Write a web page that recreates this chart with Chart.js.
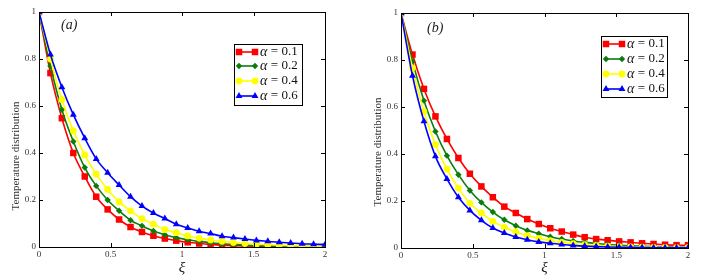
<!DOCTYPE html>
<html>
<head>
<meta charset="utf-8">
<script src="https://cdn.jsdelivr.net/npm/chart.js@4/dist/chart.umd.min.js"></script>
<style>
html, body { margin: 0; padding: 0; background: #fff; }
#wrap { position: relative; width: 701px; height: 277px; overflow: hidden; }
canvas { position: absolute; top: 0; }
</style>
</head>
<body>
<div id="wrap">
    <canvas id="chart-a" width="350" height="277" style="left:0"></canvas>
    <canvas id="chart-b" width="351" height="277" style="left:350px"></canvas>
</div>
<script>
//Two MATLAB-style temperature decay panels, (a) and (b), four alpha
//curves each. Values at xi = 0, 0.08, ... 2.

const XI = [0, 0.08, 0.16, 0.24, 0.32, 0.4, 0.48, 0.56, 0.64, 0.72, 0.8, 0.88, 0.96,
            1.04, 1.12, 1.2, 1.28, 1.36, 1.44, 1.52, 1.6, 1.68, 1.76, 1.84, 1.92, 2];

const ALPHA_LABELS = ['0.1', '0.2', '0.4', '0.6'];
const X_TICKS = [0, 0.5, 1, 1.5, 2];
const Y_TICKS = [0, 0.2, 0.4, 0.6, 0.8, 1];

//panel (a)
const A_RED    = [1, 0.74, 0.548, 0.40, 0.30, 0.214, 0.16, 0.117, 0.085, 0.064, 0.048, 0.036, 0.027,
                  0.02, 0.015, 0.011, 0.008, 0.006, 0.0045, 0.0033, 0.0025, 0.0018, 0.0013, 0.001, 0.0007, 0.0005];
const A_GREEN  = [1, 0.77, 0.584, 0.449, 0.338, 0.26, 0.2, 0.154, 0.114, 0.09, 0.068, 0.052, 0.04,
                  0.031, 0.024, 0.018, 0.014, 0.011, 0.008, 0.006, 0.0047, 0.0036, 0.0028, 0.0021, 0.0016, 0.0012];
const A_YELLOW = [1, 0.80, 0.627, 0.494, 0.392, 0.31, 0.245, 0.192, 0.154, 0.121, 0.097, 0.074, 0.061,
                  0.047, 0.037, 0.03, 0.024, 0.019, 0.015, 0.012, 0.0095, 0.0075, 0.006, 0.0048, 0.0038, 0.003];
const A_BLUE   = [1, 0.819, 0.68, 0.563, 0.463, 0.375, 0.316, 0.264, 0.214, 0.174, 0.145, 0.121, 0.097,
                  0.081, 0.067, 0.057, 0.046, 0.04, 0.034, 0.028, 0.024, 0.02, 0.017, 0.014, 0.012, 0.01];

//panel (b)
const B_RED    = [1, 0.823, 0.677, 0.56, 0.464, 0.383, 0.316, 0.262, 0.216, 0.176, 0.149, 0.123, 0.102,
                  0.084, 0.07, 0.057, 0.046, 0.038, 0.033, 0.028, 0.024, 0.02, 0.017, 0.014, 0.012, 0.012];
const B_GREEN  = [1, 0.794, 0.627, 0.496, 0.393, 0.312, 0.245, 0.194, 0.153, 0.12, 0.095, 0.075, 0.061,
                  0.048, 0.038, 0.03, 0.024, 0.019, 0.015, 0.012, 0.0095, 0.0075, 0.006, 0.0048, 0.0038, 0.003];
const B_YELLOW = [1, 0.766, 0.58, 0.44, 0.336, 0.255, 0.19, 0.149, 0.113, 0.088, 0.068, 0.053, 0.041,
                  0.031, 0.024, 0.018, 0.014, 0.011, 0.008, 0.006, 0.0047, 0.0036, 0.0028, 0.0021, 0.0016, 0.0012];
const B_BLUE   = [1, 0.733, 0.539, 0.39, 0.294, 0.216, 0.16, 0.118, 0.085, 0.064, 0.047, 0.035, 0.026,
                  0.02, 0.015, 0.011, 0.008, 0.006, 0.0045, 0.0033, 0.0025, 0.0018, 0.0013, 0.001, 0.0007, 0.0005];

const SERIES_STYLE = [
    { color: '#ff0000', pointStyle: 'rect',     radius: 4.6 },
    { color: '#0a7d0a', pointStyle: 'rectRot',  radius: 3.2 },
    { color: '#ffff00', pointStyle: 'circle',   radius: 3.4 },
    { color: '#0000ff', pointStyle: 'triangle', radius: 4.0 },
];

const SERIF = '"Liberation Serif", "DejaVu Serif", serif';

function buildDatasets(series)
{
    return series.map((ys, i) =>
    {
        const st = SERIES_STYLE[i];
        return {
            label: ALPHA_LABELS[i],
            data: XI.map((x, k) => ({ x, y: ys[k] })),
            borderColor: st.color,
            backgroundColor: st.color,
            borderWidth: 1.6,
            pointStyle: st.pointStyle,
            pointRadius: st.radius,
            pointBorderWidth: 0,
            pointBackgroundColor: st.color,
            cubicInterpolationMode: 'monotone',
            order: series.length - i,
        };
    });
}

//Draws one marker; uses Chart's helper when present.
function marker(ctx, style, radius, x, y, color)
{
    ctx.fillStyle = color;
    ctx.strokeStyle = color;
    if (Chart.helpers && Chart.helpers.drawPoint)
    {
        Chart.helpers.drawPoint(ctx, { pointStyle: style, radius, rotation: 0, borderWidth: 0 }, x, y);
        return;
    }
    ctx.beginPath();
    ctx.arc(x, y, radius, 0, Math.PI * 2);
    ctx.fill();
}

//Frame, inward ticks, panel tag, y title and the boxed legend.
const matlabDecor = {
    id: 'matlab-decor',
    afterDraw(chart, _args, opts)
    {
        const ctx = chart.ctx;
        const ca = chart.chartArea;
        const xs = chart.scales.x;
        const ys = chart.scales.y;
        ctx.save();

        ctx.strokeStyle = '#000';
        ctx.lineWidth = 1;
        ctx.strokeRect(Math.round(ca.left) + 0.5, Math.round(ca.top) + 0.5,
                       Math.round(ca.right - ca.left), Math.round(ca.bottom - ca.top));
        const tl = 4;
        ctx.beginPath();
        X_TICKS.forEach((v) =>
        {
            const px = Math.round(xs.getPixelForValue(v)) + 0.5;
            ctx.moveTo(px, ca.bottom); ctx.lineTo(px, ca.bottom - tl);
            ctx.moveTo(px, ca.top);    ctx.lineTo(px, ca.top + tl);
        });
        Y_TICKS.forEach((v) =>
        {
            const py = Math.round(ys.getPixelForValue(v)) + 0.5;
            ctx.moveTo(ca.left, py);  ctx.lineTo(ca.left + tl, py);
            ctx.moveTo(ca.right, py); ctx.lineTo(ca.right - tl, py);
        });
        ctx.stroke();

        //panel tag
        ctx.fillStyle = '#222';
        ctx.font = 'italic 14px ' + SERIF;
        ctx.textBaseline = 'middle';
        ctx.textAlign = 'left';
        ctx.fillText(opts.tag, opts.tagX, opts.tagY);

        //y title
        ctx.save();
        ctx.translate(opts.yTitleX, opts.yTitleY);
        ctx.rotate(-Math.PI / 2);
        ctx.textAlign = 'center';
        ctx.fillStyle = '#333';
        ctx.font = '11px ' + SERIF;
        ctx.fillText('Temperature distribution', 0, 0);
        ctx.restore();

        //legend
        const lg = opts.legend;
        ctx.fillStyle = '#fff';
        ctx.fillRect(lg.x, lg.y, lg.w, lg.h);
        ctx.strokeStyle = '#000';
        ctx.lineWidth = 1;
        ctx.strokeRect(lg.x + 0.5, lg.y + 0.5, lg.w, lg.h);
        chart.data.datasets.forEach((ds, i) =>
        {
            const y = lg.rows[i];
            const st = SERIES_STYLE[i];
            const x0 = lg.x + 5;
            const x1 = x0 + 16;
            ctx.strokeStyle = st.color;
            ctx.lineWidth = 1.6;
            ctx.beginPath();
            ctx.moveTo(x0, y);
            ctx.lineTo(x1, y);
            ctx.stroke();
            marker(ctx, st.pointStyle, st.radius, x0, y, st.color);
            marker(ctx, st.pointStyle, st.radius, x1, y, st.color);

            ctx.fillStyle = '#111';
            ctx.textAlign = 'left';
            ctx.textBaseline = 'middle';
            let tx = x1 + 5;
            ctx.font = 'italic 14px ' + SERIF;
            ctx.fillText('\u03b1', tx, y);
            tx += ctx.measureText('\u03b1').width + 3.5;
            ctx.font = '13px ' + SERIF;
            ctx.fillText('= ' + ds.label, tx, y);
        });

        ctx.restore();
    },
};

function makePanel(canvasId, series, cfg)
{
    const tickFont = { family: SERIF, size: 9 };
    return new Chart(document.getElementById(canvasId), {
        type: 'line',
        data: { datasets: buildDatasets(series) },
        options: {
            responsive: false,
            animation: false,
            events: [],
            layout: { padding: { left: cfg.padL, right: cfg.padR, top: cfg.padT, bottom: 0 } },
            plugins: {
                legend: { display: false },
                tooltip: { enabled: false },
                'matlab-decor': cfg.decor,
            },
            scales: {
                x: {
                    type: 'linear',
                    min: 0,
                    max: 2,
                    afterBuildTicks: (s) => { s.ticks = X_TICKS.map((v) => ({ value: v })); },
                    ticks: { font: tickFont, color: '#333', padding: 2, maxRotation: 0,
                             callback: (v) => String(v) },
                    grid: { display: false, drawTicks: false },
                    border: { display: false },
                    title: {
                        display: true,
                        text: '\u03be',
                        font: { family: SERIF, size: 15, style: 'italic' },
                        color: '#222',
                        padding: { top: cfg.xiPad, bottom: 0 },
                    },
                    afterFit: (s) => { s.height = cfg.bottomH; },
                },
                y: {
                    min: 0,
                    max: 1,
                    afterBuildTicks: (s) => { s.ticks = Y_TICKS.map((v) => ({ value: v })); },
                    ticks: { font: tickFont, color: '#333', padding: 3,
                             callback: (v) => String(v) },
                    grid: { display: false, drawTicks: false },
                    border: { display: false },
                    afterFit: (s) => { s.width = cfg.yW; },
                },
            },
        },
        plugins: [matlabDecor],
    });
}

makePanel('chart-a', [A_RED, A_GREEN, A_YELLOW, A_BLUE], {
    padL: 0, padR: 25, padT: 12, yW: 39, bottomH: 30, xiPad: 0,
    decor: {
        tag: '(a)', tagX: 61, tagY: 25,
        yTitleX: 16, yTitleY: 156,
        legend: { x: 234, y: 44, w: 68, h: 61, rows: [52, 66, 81, 96] },
    },
});

makePanel('chart-b', [B_RED, B_GREEN, B_YELLOW, B_BLUE], {
    padL: 13, padR: 13, padT: 13, yW: 38, bottomH: 29, xiPad: 4,
    decor: {
        tag: '(b)', tagX: 77, tagY: 28,
        yTitleX: 28, yTitleY: 152,
        legend: { x: 251, y: 36, w: 66, h: 61, rows: [44, 59, 74, 89] },
    },
});
</script>
</body>
</html>
